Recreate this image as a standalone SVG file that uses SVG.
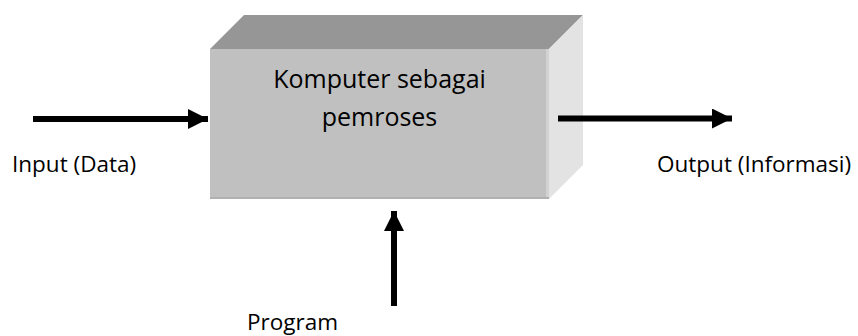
<svg xmlns="http://www.w3.org/2000/svg" width="858" height="336" viewBox="0 0 858 336">
<style>
.lbl{font-family:"Open Sans","Liberation Sans",sans-serif;font-size:22.5px;fill:#000}
.ttl{font-family:"Open Sans","Liberation Sans",sans-serif;font-size:25px;fill:#000;text-anchor:middle}
.arr{stroke:#000;stroke-width:6;fill:none}
</style>
<defs>
<marker id="ah" viewBox="0 0 20 20" refX="20" refY="10" markerWidth="20" markerHeight="20" markerUnits="userSpaceOnUse" orient="auto">
<path d="M0,0 L20,10 L0,20 Z" fill="#000"/>
</marker>
</defs>
<rect width="858" height="336" fill="#fff"/>
<g id="komputer">
<polygon points="210,49 244,15 583,15 549,49" fill="#969696"/>
<polygon points="549,49 583,15 583,165 549,199" fill="#e3e3e3"/>
<rect x="210" y="49" width="339" height="150" fill="#c0c0c0"/>
<rect x="546" y="49" width="3" height="150" fill="#d2d2d2"/>
<rect x="210" y="197" width="339" height="2" fill="#b0b0b0"/>
<text class="ttl" x="379.5" y="88">Komputer sebagai</text>
<text class="ttl" x="379.5" y="126">pemroses</text>
</g>
<g id="input">
<text class="lbl" x="12" y="172">Input (Data)</text>
</g>
<g id="output">
<text class="lbl" x="657" y="172">Output (Informasi)</text>
</g>
<g id="program">
<text class="lbl" x="247" y="330">Program</text>
</g>
<g id="connectors">
<line class="arr" x1="33" y1="119" x2="208" y2="119" marker-end="url(#ah)"/>
<line class="arr" x1="558" y1="118.5" x2="732" y2="118.5" marker-end="url(#ah)"/>
<line class="arr" x1="394" y1="306" x2="394" y2="211" marker-end="url(#ah)"/>
</g>
</svg>
